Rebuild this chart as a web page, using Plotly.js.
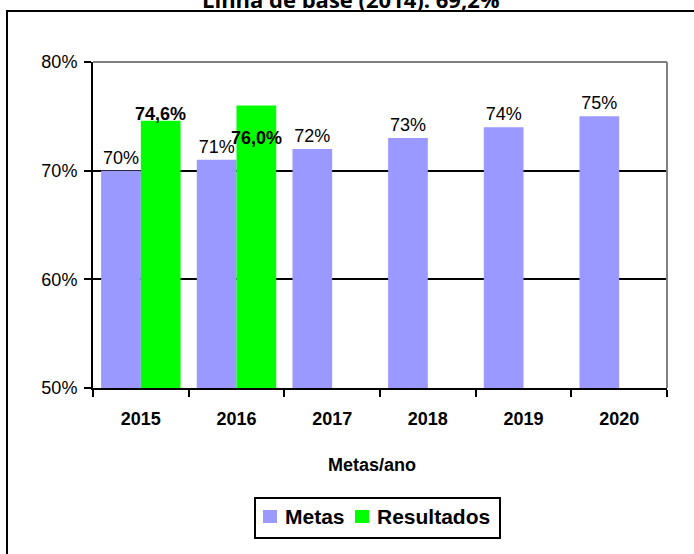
<!DOCTYPE html>
<html>
<head>
<meta charset="utf-8">
<script src="https://cdn.plot.ly/plotly-3.0.1.min.js"></script>
<style>html,body{margin:0;padding:0;background:#fff;}#chart{width:694px;height:554px;}</style>
</head>
<body>
<div id="chart"></div>
<script>
const categories = ['2015', '2016', '2017', '2018', '2019', '2020'];
const metas = [70, 71, 72, 73, 74, 75];
const resultados = [74.6, 76.0, null, null, null, null];
const yTicks = [50, 60, 70, 80];
const seriesNames = ['Metas', 'Resultados'];
const seriesColors = ['#9999FF', '#00FF00'];
const titleText = 'Linha de base (2014): 69,2%';
const xTitle = 'Metas/ano';

const F = 'Liberation Sans, Arial, sans-serif';
const PL = 93, PR = 667, PT = 62, PB = 388;
const W = 694, H = 554;
const pw = PR - PL, ph = PB - PT;
const px2x = p => (p - PL) / pw;
const py2y = p => (PB - p) / ph;

const bargap = 0.17;
const halfBar = (1 - bargap) / 4;

const traces = [
  {
    type: 'bar', name: seriesNames[0], x: categories, y: metas,
    marker: {color: seriesColors[0]},
    text: metas.map(v => v + '%'), textposition: 'outside', cliponaxis: false,
    constraintext: 'none',
    textfont: {family: F, size: 18, color: '#000'},
    hoverinfo: 'none'
  },
  {
    type: 'bar', name: seriesNames[1], x: categories, y: resultados,
    marker: {color: seriesColors[1]},
    textposition: 'none', hoverinfo: 'none'
  }
];

// label shifts for the Resultados labels (styling, in px)
const resShift = [-5, -33];
const resAnchor = ['bottom', 'middle'];
const annotations = [];
resultados.forEach((v, i) => {
  if (v === null) return;
  annotations.push({
    x: i + halfBar, y: v, xref: 'x', yref: 'y',
    text: v.toFixed(1).replace('.', ',') + '%',
    showarrow: false, xanchor: 'center', yanchor: resAnchor[i], yshift: resShift[i],
    font: {family: F, size: 18, color: '#000', weight: 'bold'}
  });
});
annotations.push({
  x: px2x(372), y: py2y(465), xref: 'paper', yref: 'paper',
  text: xTitle, showarrow: false, xanchor: 'center', yanchor: 'middle',
  font: {family: F, size: 18, color: '#000', weight: 'bold'}
});
annotations.push({
  x: px2x(351), y: py2y(16), xref: 'paper', yref: 'paper',
  text: titleText, showarrow: false, xanchor: 'center', yanchor: 'bottom',
  font: {family: 'Open Sans, sans-serif', size: 22, color: '#000', weight: 'bold'}
});

// custom legend (box, swatches, names)
const legBox = {x0: 255, x1: 500, y0: 498, y1: 538};
const swatchX = [263, 355];
const textX = [283, 375];
const shapes = [
  {type: 'line', xref: 'paper', yref: 'paper', x0: 0, x1: 1, y0: 1, y1: 1, line: {color: '#808080', width: 2}},
  {type: 'line', xref: 'paper', yref: 'paper', x0: 1, x1: 1, y0: 0, y1: 1, line: {color: '#808080', width: 2}},
  {type: 'rect', xref: 'paper', yref: 'paper', x0: px2x(7), x1: px2x(760), y0: py2y(620), y1: py2y(11), line: {color: '#000', width: 2}, fillcolor: 'rgba(0,0,0,0)'},
  {type: 'rect', xref: 'paper', yref: 'paper', x0: px2x(legBox.x0), x1: px2x(legBox.x1), y0: py2y(legBox.y1), y1: py2y(legBox.y0), line: {color: '#000', width: 2}, fillcolor: '#fff'}
];
seriesNames.forEach((n, i) => {
  shapes.push({type: 'rect', xref: 'paper', yref: 'paper',
    x0: px2x(swatchX[i]), x1: px2x(swatchX[i] + 14), y0: py2y(523), y1: py2y(510),
    line: {width: 0}, fillcolor: seriesColors[i]});
  annotations.push({x: px2x(textX[i]), y: py2y(516), xref: 'paper', yref: 'paper',
    text: n, showarrow: false, xanchor: 'left', yanchor: 'middle',
    font: {family: F, size: 21, color: '#000', weight: 'bold'}});
});

const layout = {
  width: W, height: H,
  margin: {l: PL, r: W - PR, t: PT, b: H - PB, pad: 0},
  paper_bgcolor: '#fff', plot_bgcolor: '#fff',
  barmode: 'group', bargap: bargap, bargroupgap: 0,
  showlegend: false,
  xaxis: {
    type: 'category', showgrid: false, zeroline: false,
    showline: true, linecolor: '#000', linewidth: 2,
    ticks: 'outside', ticklen: 7, tickwidth: 2, tickcolor: '#000',
    tickson: 'boundaries', ticklabelstandoff: 13,
    tickfont: {family: F, size: 18, color: '#000', weight: 'bold'}
  },
  yaxis: {
    range: [50, 80], tickvals: yTicks, ticktext: yTicks.map(v => v + '%'),
    showgrid: true, gridcolor: '#000', gridwidth: 2, zeroline: false,
    showline: true, linecolor: '#000', linewidth: 2,
    ticks: 'outside', ticklen: 7, tickwidth: 2, tickcolor: '#000',
    ticklabelstandoff: 3,
    tickfont: {family: F, size: 18, color: '#000'}
  },
  yaxis2: {
    overlaying: 'y', side: 'left', range: [50, 80], tickvals: yTicks,
    showticklabels: false, showgrid: false, zeroline: false, showline: false,
    ticks: 'inside', ticklen: 7, tickwidth: 2, tickcolor: '#000'
  },
  shapes: shapes,
  annotations: annotations
};

Plotly.newPlot('chart', traces, layout, {displayModeBar: false, staticPlot: true});
</script>
</body>
</html>
